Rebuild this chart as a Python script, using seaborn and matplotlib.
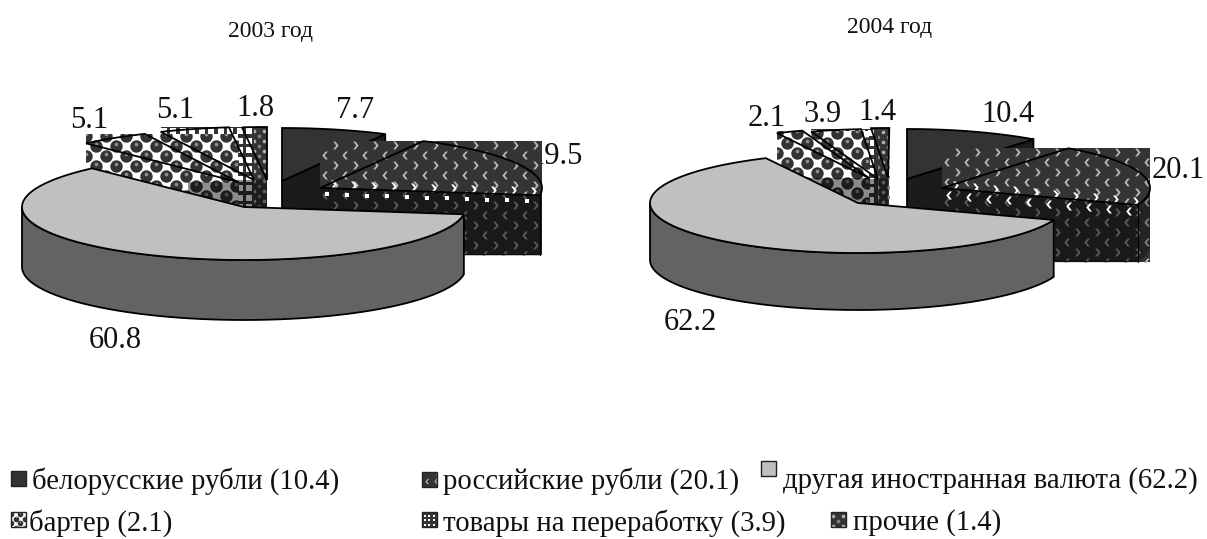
import numpy as np
import matplotlib
matplotlib.use('Agg')
import matplotlib.pyplot as plt
from matplotlib.patches import Polygon, Rectangle
import seaborn as sns

# shares in percent, clockwise from 12 o'clock
categories = ['белорусские рубли', 'российские рубли', 'другая иностранная валюта',
              'бартер', 'товары на переработку', 'прочие']
values_2003 = [7.7, 19.5, 60.8, 5.1, 5.1, 1.8]
values_2004 = [10.4, 20.1, 62.2, 2.1, 3.9, 1.4]
titles = ['2003 год', '2004 год']

sns.set_theme(style='white')
plt.rcParams['font.family'] = ['Liberation Serif', 'DejaVu Serif']

FS_VALUE = 22
FS_TITLE = 17
FS_LEGEND = 20.7
CHEVRON_R = [(-.6, -1), (0, -1), (.8, 0), (0, 1), (-.6, 1), (.2, 0)]
CHEVRON_L = [(.6, -1), (0, -1), (-.8, 0), (0, 1), (.6, 1), (-.2, 0)]

fig = plt.figure(figsize=(12.07, 5.39), dpi=100)
ax = fig.add_axes([0, 0, 1, 1])
ax.set_xlim(0, 1207)
ax.set_ylim(539, 0)
ax.axis('off')


def arc(c, rx, ry, a0, a1, dy=0, n=60):
    # a0, a1 in degrees, screen y goes down
    t = np.radians(np.linspace(a0, a1, n))
    return np.column_stack([c[0] + rx * np.cos(t), c[1] - ry * np.sin(t) + dy])


def marks(xs, ys, marker, s, color, clip, z):
    xx, yy = np.meshgrid(xs, ys)
    sns.scatterplot(x=xx.ravel(), y=yy.ravel(), marker=marker, s=s, color=color,
                    linewidth=0, ax=ax, zorder=z, legend=False)
    ax.collections[-1].set_clip_path(clip)


def pattern(x0, y0, x1, y1, kind, z, small=False):
    bg = {'chevron': '#343434', 'check': 'white', 'grid': '#333333', 'dots': '#333333'}[kind]
    r = Rectangle((x0, y0), x1 - x0, y1 - y0, fc=bg, ec='none', zorder=z)
    ax.add_patch(r)
    k = 0.45 if small else 1
    if kind == 'chevron':
        st = 20 * k
        for i, y in enumerate(np.arange(y0 + 4, y1 + 1, st / 2)):
            if i % 2 == 0:
                marks(np.arange(x0 + 14.7, x1, st), [y], CHEVRON_R, 32 * k, '#b8b8b8', r, z)
            else:
                marks(np.arange(x0 + 4.7, x1, st), [y], CHEVRON_L, 32 * k, '#b8b8b8', r, z)
    elif kind == 'check':
        st = 20 * k
        for i, y in enumerate(np.arange(y0 + 2, y1 + 6, st / 2)):
            xs = np.arange(x0 - (st / 2 if i % 2 else 0), x1 + st, st)
            marks(xs, [y], 'o', 80 * k * k, '#333333', r, z)
            marks(xs, [y - 1.5], 'o', 7 * k * k, '#8c8c8c', r, z)
    elif kind == 'grid':
        st = 9.5 * k
        marks(np.arange(x0 + 3, x1 + 1, st), np.arange(y0 + 4, y1 + 1, st), 's', 18 * k * k, 'white', r, z)
    else:
        marks(np.arange(x0 + 2, x1 + 1, 10), np.arange(y0 + 4, y1 + 1, 10), 'o', 7, '#b0b0b0', r, z)
        marks(np.arange(x0 + 7, x1 + 1, 10), np.arange(y0 + 9, y1 + 1, 10), 'o', 7, '#808080', r, z)
    return r


def pie3d(values, gray_c, centers, rx, ry, depth, shade_w):
    edges = 90 - np.cumsum([0] + list(values)) * 3.6
    a = list(zip(edges[:-1], edges[1:]))
    lw = 1.3

    # dark slice, solid colour
    c = centers[0]
    top = np.vstack([[c], arc(c, rx, ry, a[0][0], a[0][1])])
    end = top[-1]
    ax.add_patch(Polygon([c, end, end + [0, depth], (c[0], c[1] + depth)], fc='#1b1b1b', ec='black', lw=lw, zorder=2))
    ax.add_patch(Polygon(top, fc='#333333', ec='black', lw=lw, zorder=2))

    # russian rubles: the fill runs over the whole bounding box
    c = centers[1]
    top = np.vstack([[c], arc(c, rx, ry, a[1][0], a[1][1])])
    ext = arc(c, rx, ry, a[1][1], 0)
    x1, y0 = c[0] + rx, top[:, 1].min()
    y1 = top[-1, 1] + depth
    pattern(c[0], y0, x1, y1, 'chevron', 3)
    e = top[-1]
    st = 20
    ax.add_patch(Polygon([c, e, e + [0, depth], (c[0], y1)], fc='black', alpha=.5, ec='none', zorder=3.1))
    ax.add_patch(Polygon(np.vstack([ext, (ext + [0, depth])[::-1]]), fc='black', alpha=.3, ec='none', zorder=3.1))
    # light row along the edge of the top face
    t = np.arange(c[0] + 13, e[0] + 2, st)
    yy = c[1] + (t - c[0]) * (e[1] - c[1]) / (e[0] - c[0])
    sns.scatterplot(x=t, y=yy - 4, marker=CHEVRON_R, s=34, color='white', linewidth=0, ax=ax, zorder=3.2, legend=False)
    sns.scatterplot(x=t - 6, y=yy + 6, marker=(CHEVRON_L if e[1] - c[1] > 10 else 's'),
                    s=(34 if e[1] - c[1] > 10 else 9), color='white', linewidth=0, ax=ax, zorder=3.2, legend=False)
    ax.add_patch(Polygon(top, fc='none', ec='black', lw=lw, zorder=3.3))
    ax.plot([e[0], e[0]], [e[1], y1], color='black', lw=lw * .7, zorder=3.3)
    ax.plot([c[0], e[0]], [y1 - 1, y1 - 1], color='#101010', lw=lw * .7, zorder=3.3)

    # small slices back to front, each box over the one before it
    kinds = {5: 'dots', 4: 'grid', 3: 'check'}
    for i in (5, 4, 3):
        c = centers[i]
        top = np.vstack([[c], arc(c, rx, ry, a[i][0], a[i][1])])
        pattern(top[:, 0].min(), top[:, 1].min(), top[:, 0].max(), c[1] + depth, kinds[i], 3 + (5 - i) * .2)
    for i in (5, 4, 3):
        c = centers[i]
        w = shade_w[i - 3]
        ax.add_patch(Polygon([(c[0] - w, c[1]), c, (c[0], c[1] + depth), (c[0] - w, c[1] + depth)],
                             fc='black', alpha=.45, ec='none', zorder=3.7))
        top = np.vstack([[c], arc(c, rx, ry, a[i][0], a[i][1])])
        ax.add_patch(Polygon(top, fc='none', ec='black', lw=lw, zorder=3.8))

    # main grey slice in front
    c = gray_c
    front = arc(c, rx, ry, a[2][0], -180)
    ax.add_patch(Polygon(np.vstack([front, (front + [0, depth])[::-1]]), fc='#636363', ec='black', lw=lw, zorder=5))
    top = np.vstack([[c], arc(c, rx, ry, a[2][0], a[2][1], n=120)])
    ax.add_patch(Polygon(top, fc='#c0c0c0', ec='black', lw=lw, zorder=5.1))


pie3d(values_2003, (244, 207), [(282, 181), (320, 188), None, (238, 182), (254, 180), (267, 180)],
      222, 53, 60, [50, 16, 13])
pie3d(values_2004, (858, 203), [(907, 179), (942, 188), None, (869, 178), (878, 179), (888, 178)],
      208, 50, 57, [60, 9, 9])

# value labels
pos_2003 = [(355, 110), (583, 157), (115, 341), (89, 121), (175, 110), (255, 108)]
pos_2004 = [(1008, 115), (1205, 171), (690, 323), (767, 118), (823, 115), (877, 112)]
for vals, pos in [(values_2003, pos_2003), (values_2004, pos_2004)]:
    for i, (v, p) in enumerate(zip(vals, pos)):
        if i == 1:
            ax.text(p[0], p[1], str(v), ha='right', va='center', fontsize=FS_VALUE, color='#111111', zorder=1)
        else:
            ax.text(p[0], p[1], str(v), ha='center', va='center', fontsize=FS_VALUE, color='#111111', zorder=6)

ax.text(271, 32, titles[0], ha='center', va='center', fontsize=FS_TITLE, color='#111111')
ax.text(890, 28, titles[1], ha='center', va='center', fontsize=FS_TITLE, color='#111111')

# legend, last year's shares
legend_pos = [(11, 471, 32, 481), (422, 472, 443, 481), (761, 461, 783, 481),
              (11, 512, 29, 523), (422, 512, 443, 523), (831, 512, 853, 523)]
legend_kind = [None, 'chevron', None, 'check', 'grid', 'dots']
legend_fill = ['#333333', None, '#c0c0c0', None, None, None]
for name, v, p, k, col in zip(categories, values_2004, legend_pos, legend_kind, legend_fill):
    x, y, tx, ty = p
    if k is None:
        ax.add_patch(Rectangle((x, y), 15, 15, fc=col, ec='#222222', lw=1, zorder=6))
    else:
        pattern(x, y, x + 15, y + 15, k, 6, small=True)
        ax.add_patch(Rectangle((x, y), 15, 15, fc='none', ec='#222222', lw=1, zorder=6.5))
    ax.text(tx, ty, '%s (%s)' % (name, v), ha='left', va='center', fontsize=FS_LEGEND, color='#111111')

fig.savefig('out.png', dpi=100)
